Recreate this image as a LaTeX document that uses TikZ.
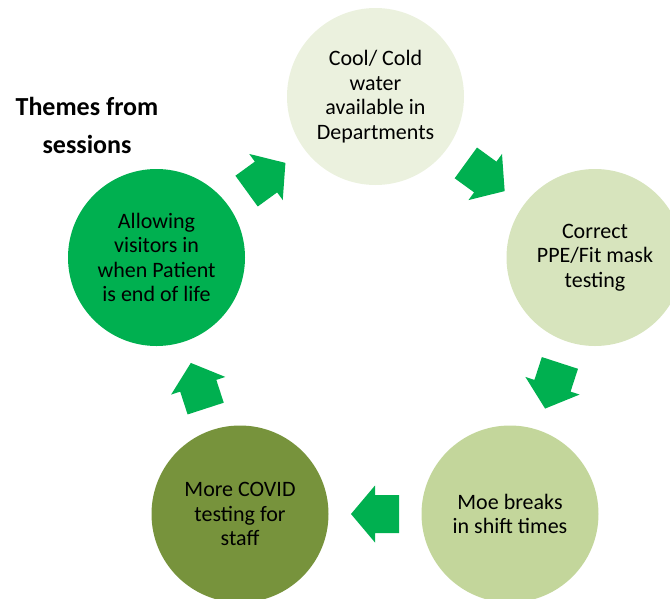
\documentclass[tikz,border=0pt]{standalone}
\usepackage{fontspec}
\setmainfont{Carlito}
\usetikzlibrary{calc}
\definecolor{paleleaf}{HTML}{EBF1DE}
\definecolor{lightleaf}{HTML}{D7E4BD}
\definecolor{midleaf}{HTML}{C3D69B}
\definecolor{oliveleaf}{HTML}{77933C}
\definecolor{brightgreen}{HTML}{00B050}
\begin{document}
\begin{tikzpicture}[x=1pt,y=-1pt,
  theme/.style={circle, minimum size=177pt, inner sep=0pt, align=center,
    font=\fontsize{22}{24.5}\selectfont},
  flow/.style={fill=brightgreen},
  heading/.style={align=center, font=\fontsize{26}{38}\bfseries\selectfont}]
\useasboundingbox (0,0) rectangle (670,598);
\clip (0,0) rectangle (670,598);

% the five themes, on a regular pentagon
\node[theme, fill=paleleaf]   (water)    at (375.5,96.5)  {Cool/ Cold\\water\\available in\\Departments};
\node[theme, fill=lightleaf]  (ppe)      at (595,257.5)   {Correct\\PPE/Fit mask\\testing};
\node[theme, fill=midleaf]    (breaks)   at (510,514)     {Moe breaks\\in shift times};
\node[theme, fill=oliveleaf]  (covid)    at (240,514)     {More COVID\\testing for\\staff};
\node[theme, fill=brightgreen](visitors) at (156.5,257.5) {Allowing\\visitors in\\when Patient\\is end of life};

% clockwise block arrows halfway between neighbouring themes
\coordinate (m1) at ($(water)!0.5!(ppe)$);
\coordinate (m2) at ($(ppe)!0.5!(breaks)$);
\coordinate (m3) at ($(breaks)!0.5!(covid)$);
\coordinate (m4) at ($(covid)!0.5!(visitors)$);
\coordinate (m5) at ($(visitors)!0.5!(water)$);
\foreach \m/\ang in {m1/-36, m2/-108, m3/180, m4/108, m5/36}{
  \fill[flow, shift={(\m)}, rotate=\ang]
    (-24,-19) -- (0,-19) -- (0,-28.5) -- (24,0) -- (0,28.5) -- (0,19) -- (-24,19) -- cycle;
}

\node[heading, anchor=base] (title) at (87,153) {Themes from\\sessions};
\end{tikzpicture}
\end{document}
